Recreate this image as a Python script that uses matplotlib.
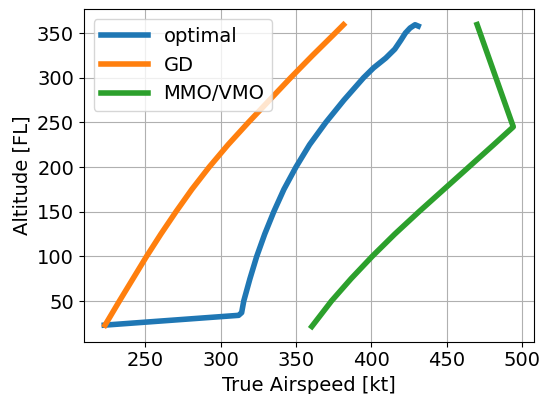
import numpy as np
import matplotlib
matplotlib.use("Agg")
import matplotlib.pyplot as plt

# altitude [FL] and true airspeed [kt]
opt_fl = [23, 34, 37, 50, 75, 100, 125, 150, 175, 200, 225, 250, 275, 300,
          311, 322, 332, 342, 350, 355.6, 359.3, 357.8]
opt_tas = [223, 312, 314, 315.4, 319.5, 324, 329.3, 335.3, 342, 350, 359, 369.8, 381.8, 394.8,
           401.4, 409.5, 415.5, 419.5, 422.5, 425.6, 428.9, 431]

gd_fl = [23, 50, 75, 100, 125, 150, 175, 200, 225, 250, 275, 300, 325, 350, 359.3]
gd_tas = [223.5, 233, 242, 251, 260.5, 270.5, 281, 292.5, 305, 318.5, 332.5, 346.5, 361, 376, 381.5]

mmo_fl = [21.5, 50, 75, 100, 125, 150, 175, 200, 225, 245, 359.5]
mmo_tas = [360.5, 373.5, 386.5, 400.5, 415.5, 431.5, 448, 464.5, 481, 494, 470]

plt.rcParams['font.size'] = 14

fig, ax = plt.subplots(figsize=(5.48, 3.94), dpi=100)
ax.plot(opt_tas, opt_fl, lw=4, label='optimal')
ax.plot(gd_tas, gd_fl, lw=4, label='GD')
ax.plot(mmo_tas, mmo_fl, lw=4, label='MMO/VMO')
ax.set_xlabel('True Airspeed [kt]')
ax.set_ylabel('Altitude [FL]')
ax.set_xticks([250, 300, 350, 400, 450, 500])
ax.set_yticks([50, 100, 150, 200, 250, 300, 350])
ax.grid(True)
ax.legend(loc='upper left', handlelength=2.4)
plt.subplots_adjust(left=0.153, right=0.974, top=0.976, bottom=0.133)
plt.savefig('out.png')
